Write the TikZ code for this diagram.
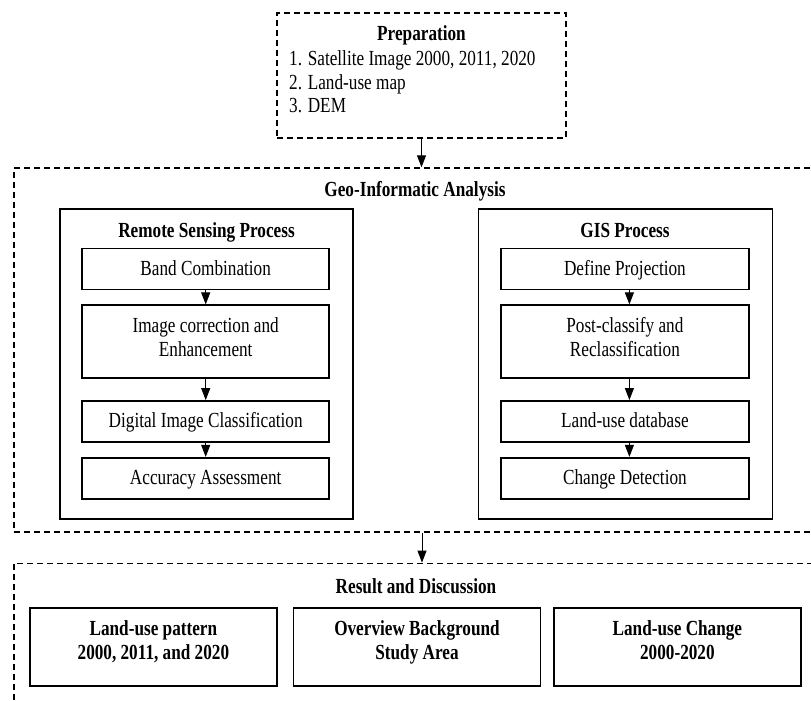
\documentclass[tikz,border=0pt]{standalone}
\usepackage{fontspec}
\setmainfont[FakeStretch=0.8]{Liberation Serif}
\usetikzlibrary{arrows.meta}
\begin{document}
\begin{tikzpicture}[x=1pt,y=-1pt,
  txt/.style={font=\fontsize{21.5}{24}\selectfont, inner sep=0pt},
  btxt/.style={font=\fontsize{21.5}{24}\selectfont\bfseries, inner sep=0pt},
  dbox/.style={draw, line width=1.4pt, dash pattern=on 6pt off 4pt, inner sep=0pt},
  sbox/.style={draw, line width=1.6pt, inner sep=0pt, font=\fontsize{21.5}{24}\selectfont,
               text height=14.7pt, text depth=2.3pt},
  arr/.style={line width=1pt, -{Triangle[length=12pt,width=9pt]}}]
\clip (0,0) rectangle (811,701);
\fill[white] (0,0) rectangle (811,701);

% Preparation
\node[dbox, minimum width=289pt, minimum height=125pt] (prep) at (421.5,75.5) {};
\node[btxt, anchor=base] (preptitle) at (421.5,41) {Preparation};
\node[txt, anchor=base west] (prep1) at (289,65.5) {1. Satellite Image 2000, 2011, 2020};
\node[txt, anchor=base west] (prep2) at (289,89) {2. Land-use map};
\node[txt, anchor=base west] (prep3) at (289,112) {3. DEM};

% Geo-Informatic Analysis
\node[dbox, minimum width=816pt, minimum height=364pt] (geo) at (422,350) {};
\node[btxt, anchor=base] (geotitle) at (415,196.5) {Geo-Informatic Analysis};

% Remote sensing
\node[draw, line width=1.6pt, minimum width=293pt, minimum height=310pt] (rs) at (206.5,364) {};
\node[btxt, anchor=base] (rstitle) at (206.5,237) {Remote Sensing Process};
\node[sbox, minimum width=247pt, minimum height=41pt] (rs1) at (205.7,268.8) {Band Combination};
\node[sbox, minimum width=247pt, minimum height=73pt] (rs2) at (205.7,341.7) {};
\node[txt, anchor=base] (rs2a) at (205.7,332.5) {Image correction and};
\node[txt, anchor=base] (rs2b) at (205.7,356.5) {Enhancement};
\node[sbox, minimum width=247pt, minimum height=41pt] (rs3) at (205.7,421.4) {Digital Image Classification};
\node[sbox, minimum width=247pt, minimum height=41pt] (rs4) at (205.7,478.2) {Accuracy Assessment};
\draw[arr] (rs1.south) -- (rs2.north);
\draw[arr] (rs2.south) -- (rs3.north);
\draw[arr] (rs3.south) -- (rs4.north);

% GIS
\node[draw, line width=1.6pt, minimum width=294pt, minimum height=310pt] (gis) at (625.3,364) {};
\node[btxt, anchor=base] (gistitle) at (625,237) {GIS Process};
\node[sbox, minimum width=247.7pt, minimum height=41pt] (gis1) at (624.9,268.8) {Define Projection};
\node[sbox, minimum width=247.7pt, minimum height=73pt] (gis2) at (624.9,341.7) {};
\node[txt, anchor=base] (gis2a) at (624.9,332.5) {Post-classify and};
\node[txt, anchor=base] (gis2b) at (624.9,356.5) {Reclassification};
\node[sbox, minimum width=247.7pt, minimum height=41pt] (gis3) at (624.9,421.4) {Land-use database};
\node[sbox, minimum width=247.7pt, minimum height=41pt] (gis4) at (624.9,478.2) {Change Detection};
\draw[arr] ([xshift=4.5pt]gis1.south) -- ([xshift=4.5pt]gis2.north);
\draw[arr] ([xshift=4.5pt]gis2.south) -- ([xshift=4.5pt]gis3.north);
\draw[arr] ([xshift=4.5pt]gis3.south) -- ([xshift=4.5pt]gis4.north);

% Result and Discussion
\node[dbox, minimum width=816pt, minimum height=157pt] (res) at (422,641.8) {};
\node[btxt, anchor=base] (restitle) at (416,593.5) {Result and Discussion};
\node[draw, line width=1.6pt, minimum width=246.8pt, minimum height=78pt] (r1) at (153.4,646.7) {};
\node[btxt, anchor=base] (r1a) at (153.4,635) {Land-use pattern};
\node[btxt, anchor=base] (r1b) at (153.4,659) {2000, 2011, and 2020};
\node[draw, line width=1.6pt, minimum width=247.3pt, minimum height=78pt] (r2) at (417,646.7) {};
\node[btxt, anchor=base] (r2a) at (417,635) {Overview Background};
\node[btxt, anchor=base] (r2b) at (417,659) {Study Area};
\node[draw, line width=1.6pt, minimum width=246.8pt, minimum height=78pt] (r3) at (677.4,646.7) {};
\node[btxt, anchor=base] (r3a) at (677.4,635) {Land-use Change};
\node[btxt, anchor=base] (r3b) at (677.4,659) {2000-2020};

% Main arrows
\draw[arr] (prep.south) -- (prep.south |- geo.north);
\draw[arr] (geo.south) -- (res.north);
\end{tikzpicture}
\end{document}
